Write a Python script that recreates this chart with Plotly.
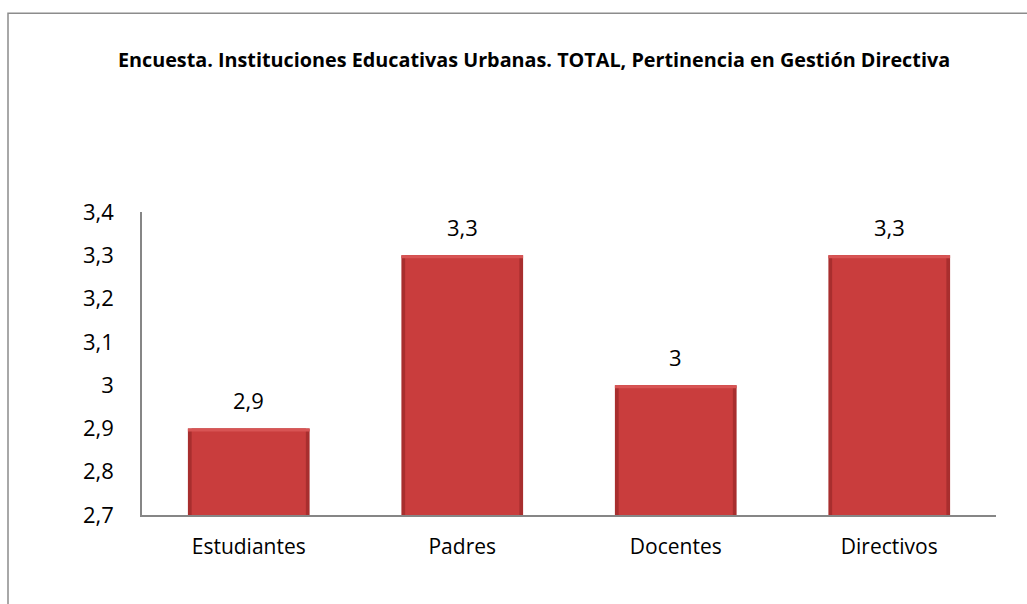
import plotly.graph_objects as go

categories = ["Estudiantes", "Padres", "Docentes", "Directivos"]
values = [2.9, 3.3, 3.0, 3.3]
value_labels = ["2,9", "3,3", "3", "3,3"]
y_tickvals = [2.7, 2.8, 2.9, 3.0, 3.1, 3.2, 3.3, 3.4]
y_ticktext = ["2,7", "2,8", "2,9", "3", "3,1", "3,2", "3,3", "3,4"]
title_text = "Encuesta. Instituciones Educativas Urbanas. TOTAL, Pertinencia en Gestión Directiva"

FONT = "Open Sans"
W, H = 1027, 604
L, R, T, B = 142, 31, 211.5, 88.5
pw, ph = W - L - R, H - T - B
Y0 = y_tickvals[0]

def px_x(x):
    return (x - L) / pw

def px_y(y):
    return (H - B - y) / ph

fig = go.Figure()
# outer (darker edge) bar
fig.add_trace(go.Bar(
    x=categories, y=[v - Y0 for v in values], base=Y0, width=0.57,
    marker=dict(color="#A82E2E", line=dict(width=0)),
    hoverinfo="skip", showlegend=False,
))
# inner body
fig.add_trace(go.Bar(
    x=categories, y=[v - Y0 for v in values], base=Y0, width=0.535,
    marker=dict(color="#C93D3D", line=dict(width=0)),
    hoverinfo="skip", showlegend=False,
))
# top highlight strip
fig.add_trace(go.Bar(
    x=categories, y=[0.007] * len(values), base=[v - 0.007 for v in values], width=0.57,
    marker=dict(color="#D85454", line=dict(width=0)),
    hoverinfo="skip", showlegend=False,
))

for c, v, t in zip(categories, values, value_labels):
    fig.add_annotation(x=c, y=v, text=t, showarrow=False, yanchor="middle",
                       yshift=28, font=dict(family=FONT, size=22, color="#000000"))

fig.add_shape(type="rect", xref="paper", yref="paper",
              x0=px_x(8), x1=px_x(1040), y0=px_y(12), y1=px_y(640),
              line=dict(color="#8C8C8C", width=1.5), fillcolor="rgba(0,0,0,0)", layer="below")

fig.update_layout(
    width=W, height=H,
    margin=dict(l=L, r=R, t=T, b=B, autoexpand=False),
    paper_bgcolor="white", plot_bgcolor="white",
    barmode="overlay",
    title=dict(text="<b>" + title_text + "</b>", x=px_x(534), xref="paper", xanchor="center",
               y=1 - 60 / H, yref="container", yanchor="middle",
               font=dict(family=FONT, size=19.8, color="#000000")),
)
fig.update_xaxes(range=[-0.5, 3.5], showline=True, linecolor="#868686", linewidth=1.5,
                 showgrid=False, zeroline=False, ticks="", ticklabelstandoff=12,
                 tickfont=dict(family=FONT, size=21, color="#000000"))
fig.update_yaxes(range=[2.7, 3.4], tickvals=y_tickvals, ticktext=y_ticktext,
                 showline=True, linecolor="#868686", linewidth=1.5,
                 showgrid=False, zeroline=False, ticks="", ticklabelstandoff=22,
                 tickfont=dict(family=FONT, size=22, color="#000000"))

fig.write_html("out.html", config={"displayModeBar": False},
               post_script="document.body.style.margin='0px';")
